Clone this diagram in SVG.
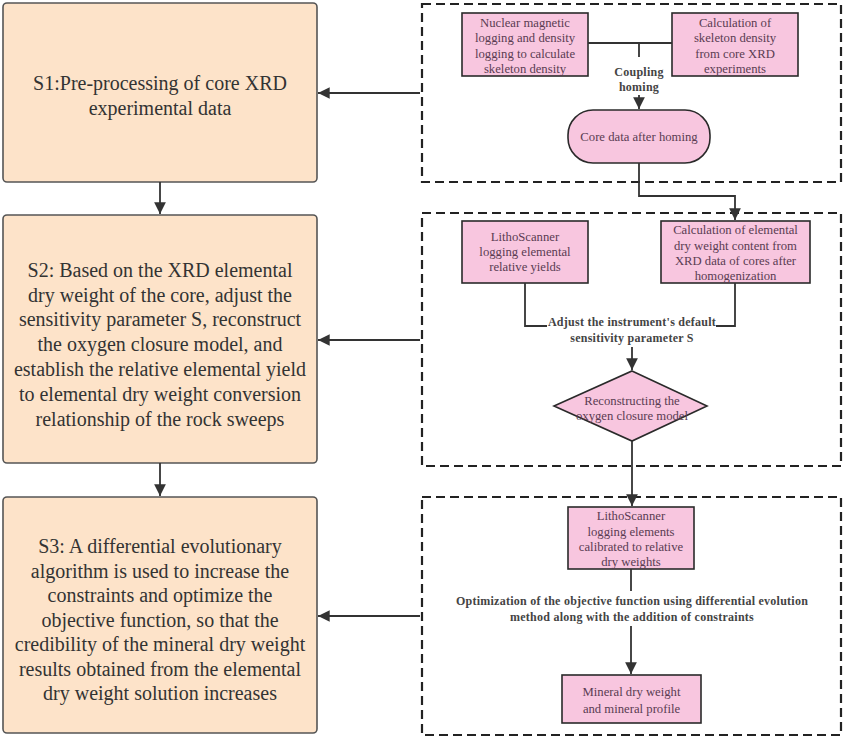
<svg xmlns="http://www.w3.org/2000/svg" width="844" height="737" viewBox="0 0 844 737">
<defs>
<style>
.step{fill:#fde3c9;stroke:#555;stroke-width:1.6}
.pink{fill:#f8c6df;stroke:#2a2a2a;stroke-width:1.6}
.dash{fill:none;stroke:#222;stroke-width:2.2;stroke-dasharray:9,5}
.ln{fill:none;stroke:#333;stroke-width:1.8}
.big{font-family:"Liberation Serif",serif;font-size:20px;fill:#333;text-anchor:middle;dominant-baseline:central}
.sm{font-family:"Liberation Serif",serif;font-size:12.7px;fill:#5a3c52;text-anchor:middle;dominant-baseline:central}
.lb{font-family:"Liberation Serif",serif;font-size:12px;font-weight:bold;fill:#444;text-anchor:middle;dominant-baseline:central;letter-spacing:0.25px}
</style>
<marker id="ah" viewBox="0 0 10 10" refX="10" refY="5" markerWidth="6.5" markerHeight="7" markerUnits="strokeWidth" orient="auto">
<path d="M0,0 L10,5 L0,10 z" fill="#333"/>
</marker>
</defs>
<rect width="844" height="737" fill="#fff"/>

<g id="s1">
<rect class="step" x="3" y="3" width="314" height="179" rx="4"/>
<text class="big" x="160" y="83">S1:Pre-processing of core XRD</text>
<text class="big" x="160" y="108">experimental data</text>
</g>
<g id="s2">
<rect class="step" x="3" y="215" width="314" height="248" rx="4"/>
<text class="big" x="160" y="270">S2: Based on the XRD elemental</text>
<text class="big" x="160" y="295">dry weight of the core, adjust the</text>
<text class="big" x="160" y="319">sensitivity parameter S, reconstruct</text>
<text class="big" x="160" y="344">the oxygen closure model, and</text>
<text class="big" x="160" y="369">establish the relative elemental yield</text>
<text class="big" x="160" y="394">to elemental dry weight conversion</text>
<text class="big" x="160" y="419">relationship of the rock sweeps</text>
</g>
<g id="s3">
<rect class="step" x="3" y="497" width="314" height="236" rx="4"/>
<text class="big" x="160" y="546">S3: A differential evolutionary</text>
<text class="big" x="160" y="570.5">algorithm is used to increase the</text>
<text class="big" x="160" y="595">constraints and optimize the</text>
<text class="big" x="160" y="619.5">objective function, so that the</text>
<text class="big" x="160" y="644">credibility of the mineral dry weight</text>
<text class="big" x="160" y="668.5">results obtained from the elemental</text>
<text class="big" x="160" y="693">dry weight solution increases</text>
</g>

<g id="panel1">
<rect class="dash" x="422" y="4" width="419" height="178"/>
</g>
<g id="panel2">
<rect class="dash" x="422" y="213" width="419" height="253"/>
</g>
<g id="panel3">
<rect class="dash" x="422" y="497" width="419" height="238"/>
</g>

<g id="nmr">
<rect class="pink" x="462" y="13" width="126" height="63"/>
<text class="sm" x="525" y="23">Nuclear magnetic</text>
<text class="sm" x="525" y="38">logging and density</text>
<text class="sm" x="525" y="53.5">logging to calculate</text>
<text class="sm" x="525" y="69">skeleton density</text>
</g>
<g id="calcskel">
<rect class="pink" x="672" y="13" width="126" height="63"/>
<text class="sm" x="735" y="23">Calculation of</text>
<text class="sm" x="735" y="38">skeleton density</text>
<text class="sm" x="735" y="53.5">from core XRD</text>
<text class="sm" x="735" y="69">experiments</text>
</g>
<g id="coredata">
<rect class="pink" x="568" y="110" width="142" height="53" rx="25"/>
<text class="sm" x="639" y="137">Core data after homing</text>
</g>
<g id="litho1">
<rect class="pink" x="462" y="221" width="126" height="62"/>
<text class="sm" x="525" y="237">LithoScanner</text>
<text class="sm" x="525" y="252">logging elemental</text>
<text class="sm" x="525" y="267">relative yields</text>
</g>
<g id="calcelem">
<rect class="pink" x="661" y="221" width="149" height="62"/>
<text class="sm" x="735.5" y="230">Calculation of elemental</text>
<text class="sm" x="735.5" y="245.5">dry weight content from</text>
<text class="sm" x="735.5" y="261">XRD data of cores after</text>
<text class="sm" x="735.5" y="276">homogenization</text>
</g>
<g id="oxygen">
<polygon class="pink" points="632,371 707,406 632,441 554,406"/>
<text class="sm" x="632" y="401">Reconstructing the</text>
<text class="sm" x="632" y="416">oxygen closure model</text>
</g>
<g id="litho2">
<rect class="pink" x="568" y="507" width="126" height="62"/>
<text class="sm" x="631" y="516">LithoScanner</text>
<text class="sm" x="631" y="531.5">logging elements</text>
<text class="sm" x="631" y="547">calibrated to relative</text>
<text class="sm" x="631" y="562">dry weights</text>
</g>
<g id="mineral">
<rect class="pink" x="562" y="675" width="139" height="48"/>
<text class="sm" x="631.5" y="692">Mineral dry weight</text>
<text class="sm" x="631.5" y="709">and mineral profile</text>
</g>

<g id="connectors">
<line class="ln" x1="160" y1="182" x2="160" y2="214" marker-end="url(#ah)"/>
<line class="ln" x1="160" y1="463" x2="160" y2="496" marker-end="url(#ah)"/>
<line class="ln" x1="420" y1="93" x2="318" y2="93" marker-end="url(#ah)"/>
<line class="ln" x1="420" y1="340" x2="318" y2="340" marker-end="url(#ah)"/>
<line class="ln" x1="420" y1="616" x2="318" y2="616" marker-end="url(#ah)"/>
<path class="ln" d="M588,43 H672 M639,43 V57"/>
<text class="lb" x="639" y="72">Coupling</text>
<text class="lb" x="639" y="87">homing</text>
<line class="ln" x1="639" y1="95" x2="639" y2="109" marker-end="url(#ah)"/>
<path class="ln" d="M639,163 V196 H735 V220" marker-end="url(#ah)"/>
<path class="ln" d="M525,283 V326 H547 M735,283 V326 H716"/>
<text class="lb" x="632" y="322">Adjust the instrument's default</text>
<text class="lb" x="632" y="338">sensitivity parameter S</text>
<line class="ln" x1="632" y1="347" x2="632" y2="370" marker-end="url(#ah)"/>
<line class="ln" x1="632" y1="441" x2="632" y2="506" marker-end="url(#ah)"/>
<line class="ln" x1="631" y1="569" x2="631" y2="591"/>
<text class="lb" x="632" y="601">Optimization of the objective function using differential evolution</text>
<text class="lb" x="632" y="617">method along with the addition of constraints</text>
<line class="ln" x1="631" y1="626" x2="631" y2="674" marker-end="url(#ah)"/>
</g>
</svg>
